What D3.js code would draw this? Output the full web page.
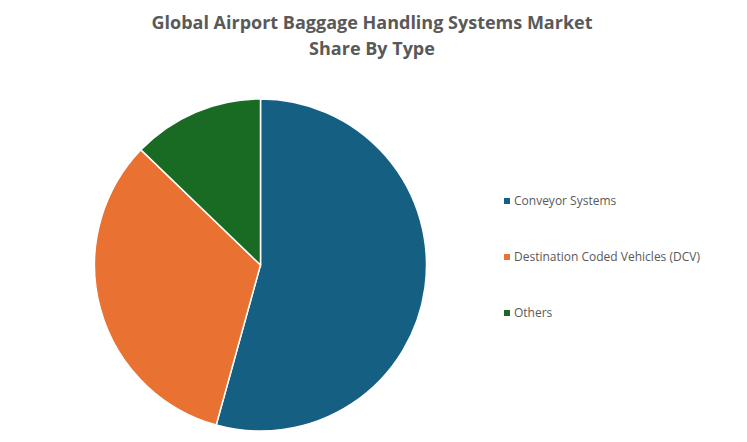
<!DOCTYPE html>
<html>
<head>
<meta charset="utf-8">
<script src="https://cdn.jsdelivr.net/npm/d3@7"></script>
<style>
  body { margin: 0; background: #fff; }
  svg { display: block; font-family: "Open Sans", sans-serif; }
</style>
</head>
<body>
<div id="chart"></div>
<script>
const w = 747;
const h = 442;

// data
const categories = ["Conveyor Systems", "Destination Coded Vehicles (DCV)", "Others"];
const shares = [54.3, 32.9, 12.8];
const colors = ["#156082", "#E97132", "#196B24"];
const titleLines = ["Global Airport Baggage Handling Systems Market", "Share By Type"];

const svg = d3.select("#chart")
  .append("svg")
  .attr("width", w)
  .attr("height", h);

// title
svg.append("text")
  .attr("x", 372)
  .attr("y", 29)
  .attr("text-anchor", "middle")
  .style("font-size", "18px")
  .style("font-weight", "bold")
  .style("fill", "#595959")
  .selectAll("tspan")
  .data(titleLines)
  .enter()
  .append("tspan")
  .attr("x", 372)
  .attr("dy", (d, i) => i === 0 ? 0 : 26)
  .text(d => d);

const color = d3.scaleOrdinal().domain(categories).range(colors);

const data = categories.map((c, i) => ({ name: c, value: shares[i] }));

const pie = d3.pie().sort(null).value(d => d.value);
const arc = d3.arc().innerRadius(0).outerRadius(166);

const g = svg.append("g").attr("transform", "translate(260.5,265)");

g.selectAll("path")
  .data(pie(data))
  .enter()
  .append("path")
  .attr("d", arc)
  .attr("fill", d => color(d.data.name))
  .attr("stroke", "#fff")
  .attr("stroke-width", 1.5);

// legend
const legend = svg.append("g").attr("id", "legend");
const legendY = d3.scalePoint().domain(categories).range([201, 313]);

legend.selectAll("rect")
  .data(categories)
  .enter()
  .append("rect")
  .attr("x", 504)
  .attr("y", d => legendY(d) - 3)
  .attr("width", 6)
  .attr("height", 6)
  .attr("fill", d => color(d));

legend.selectAll("text")
  .data(categories)
  .enter()
  .append("text")
  .attr("x", 514)
  .attr("y", d => legendY(d))
  .attr("dy", "0.35em")
  .style("font-size", "12px")
  .style("fill", "#595959")
  .text(d => d);
</script>
</body>
</html>
